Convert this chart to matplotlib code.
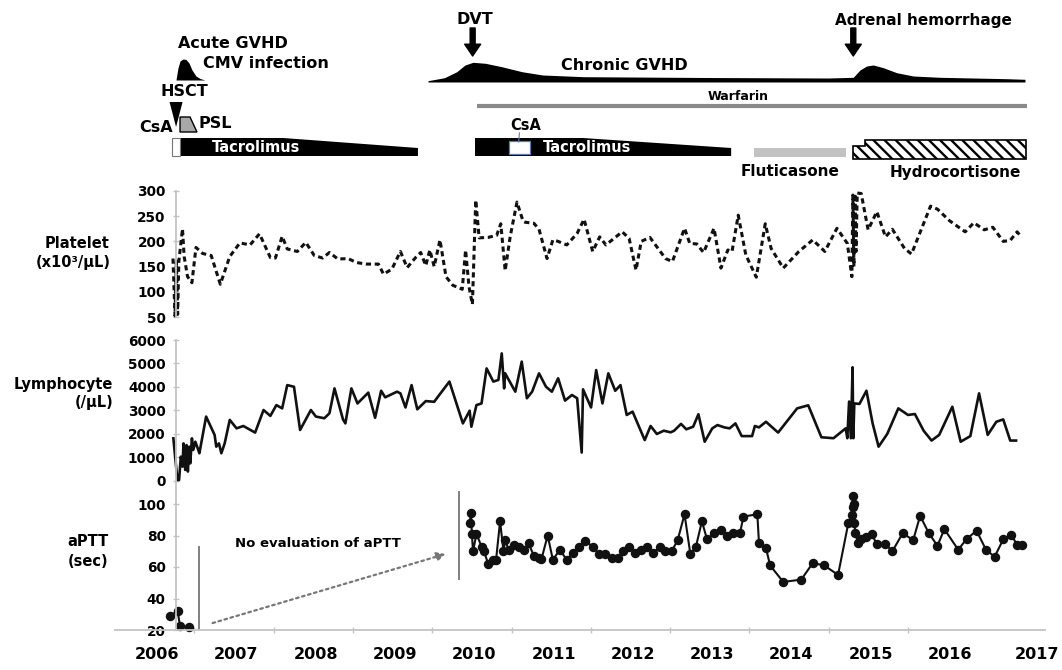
import numpy as np
import matplotlib
matplotlib.use('Agg')
import matplotlib.pyplot as plt
from matplotlib.patches import Rectangle

plt.rcParams['font.family'] = ['DejaVu Sans']
plt.rcParams['font.weight'] = 'bold'
plt.rcParams['hatch.linewidth'] = 1.7

# ------------------------------------------------------------------ data
years = list(range(2006, 2018))

platelet_t = [2006.731, 2006.757, 2006.774, 2006.790, 2006.805, 2006.851, 2006.872, 2006.915,
              2006.970, 2007.021, 2007.106, 2007.213, 2007.328, 2007.447, 2007.575, 2007.703,
              2007.822, 2007.959, 2008.023, 2008.108, 2008.172, 2008.299, 2008.406, 2008.513,
              2008.619, 2008.704, 2008.811, 2008.939, 2009.045, 2009.173, 2009.322, 2009.386,
              2009.492, 2009.599, 2009.684, 2009.791, 2009.855, 2009.919, 2009.970, 2010.025,
              2010.098, 2010.174, 2010.259, 2010.379, 2010.421, 2010.464, 2010.507, 2010.549,
              2010.592, 2010.707, 2010.813, 2010.865, 2010.920, 2010.984, 2011.069, 2011.146,
              2011.173, 2011.282, 2011.347, 2011.448, 2011.522, 2011.588, 2011.697, 2011.828,
              2011.915, 2012.024, 2012.112, 2012.190, 2012.396, 2012.483, 2012.570, 2012.636,
              2012.745, 2012.942, 2013.029, 2013.182, 2013.248, 2013.335, 2013.422, 2013.554,
              2013.641, 2013.728, 2013.781, 2013.859, 2013.955, 2014.087, 2014.200, 2014.274,
              2014.427, 2014.624, 2014.799, 2014.951, 2015.104, 2015.235, 2015.292, 2015.305,
              2015.318, 2015.331, 2015.345, 2015.360, 2015.410, 2015.497, 2015.607, 2015.716,
              2015.803, 2015.956, 2016.044, 2016.284, 2016.371, 2016.524, 2016.721, 2016.830,
              2016.961, 2017.070, 2017.201, 2017.289, 2017.376, 2017.433]
platelet_v = [166, 52, 165, 55, 160, 225, 170, 130,
              118, 188, 176, 172, 115, 170, 197, 193,
              215, 168, 167, 210, 185, 180, 198, 172,
              167, 178, 165, 166, 158, 155, 155, 135,
              145, 180, 148, 168, 178, 152, 183, 150,
              203, 130, 113, 105, 183, 110, 75, 282,
              207, 208, 212, 235, 142, 210, 278, 240,
              238, 236, 224, 166, 203, 200, 193, 216,
              244, 180, 209, 193, 219, 206, 143, 200,
              208, 166, 160, 226, 196, 195, 178, 226,
              147, 183, 180, 252, 173, 129, 235, 186,
              147, 180, 203, 180, 226, 196, 130, 292,
              150, 295, 180, 296, 295, 223, 259, 209,
              224, 186, 175, 270, 264, 241, 219, 237,
              223, 228, 200, 202, 219, 208]

lymph_t = [2006.736, 2006.787, 2006.808, 2006.830, 2006.851, 2006.864, 2006.885, 2006.902,
           2006.919, 2006.936, 2006.949, 2006.970, 2006.987, 2007.013, 2007.043, 2007.064,
           2007.149, 2007.256, 2007.277, 2007.311, 2007.341, 2007.383, 2007.447, 2007.533,
           2007.618, 2007.767, 2007.873, 2007.959, 2008.035, 2008.108, 2008.172, 2008.257,
           2008.334, 2008.470, 2008.534, 2008.640, 2008.704, 2008.768, 2008.875, 2008.905,
           2008.981, 2009.058, 2009.194, 2009.280, 2009.356, 2009.407, 2009.556, 2009.599,
           2009.663, 2009.740, 2009.812, 2009.919, 2010.025, 2010.089, 2010.217, 2010.387,
           2010.472, 2010.494, 2010.558, 2010.622, 2010.686, 2010.771, 2010.835, 2010.877,
           2010.907, 2010.920, 2011.048, 2011.129, 2011.194, 2011.260, 2011.347, 2011.435,
           2011.509, 2011.588, 2011.675, 2011.762, 2011.828, 2011.885, 2011.902, 2012.003,
           2012.068, 2012.147, 2012.221, 2012.308, 2012.374, 2012.453, 2012.527, 2012.680,
           2012.754, 2012.833, 2012.920, 2013.007, 2013.051, 2013.138, 2013.204, 2013.291,
           2013.357, 2013.436, 2013.532, 2013.597, 2013.685, 2013.750, 2013.824, 2013.903,
           2014.034, 2014.069, 2014.121, 2014.209, 2014.362, 2014.602, 2014.742, 2014.908,
           2015.061, 2015.214, 2015.235, 2015.257, 2015.279, 2015.301, 2015.310, 2015.323,
           2015.388, 2015.476, 2015.554, 2015.629, 2015.738, 2015.878, 2016.000, 2016.087,
           2016.197, 2016.297, 2016.393, 2016.559, 2016.664, 2016.786, 2016.896, 2017.005,
           2017.114, 2017.201, 2017.289, 2017.363]
lymph_v = [1815, 40, 40, 1035, 610, 1600, 470, 1530,
           400, 1460, 750, 1815, 1320, 1670, 1390, 1180,
           2740, 1960, 1460, 1600, 1180, 1600, 2600, 2240,
           2340, 2060, 3020, 2770, 3230, 3090, 4080, 4010,
           2170, 3020, 2740, 2670, 2880, 3940, 2620, 2450,
           3940, 3300, 3760, 2690, 3840, 3560, 3800, 3730,
           3130, 4080, 3050, 3400, 3370, 3660, 4230, 2450,
           2990, 2310, 3230, 3300, 4790, 4230, 4300, 5430,
           3940, 4580, 3800, 5080, 3520, 3800, 4580, 4010,
           3800, 4370, 3420, 3660, 3520, 1210, 3900, 3130,
           4720, 3300, 4580, 3840, 4080, 2810, 2950, 1740,
           2340, 2000, 2140, 2070, 2140, 2430, 2200, 2310,
           2840, 1670, 2240, 2380, 2280, 2240, 2450, 1910,
           1910, 2340, 2280, 2520, 2060, 3090, 3220, 1860,
           1820, 2240, 1820, 3380, 1820, 4840, 1820, 3300,
           3280, 3840, 2450, 1460, 2000, 3090, 2810, 2850,
           2140, 1720, 1960, 3160, 1670, 1910, 3730, 1960,
           2520, 2620, 1720, 1720]

aptt_early_t = [2006.69, 2006.79, 2006.82, 2006.93]
aptt_early_v = [29, 32, 22.5, 22]

aptt_t = [2010.472, 2010.490, 2010.500, 2010.515, 2010.558, 2010.622, 2010.651, 2010.707,
          2010.771, 2010.805, 2010.856, 2010.899, 2010.920, 2010.963, 2011.026, 2011.090,
          2011.154, 2011.216, 2011.282, 2011.347, 2011.378, 2011.456, 2011.522, 2011.609,
          2011.697, 2011.771, 2011.850, 2011.928, 2012.024, 2012.103, 2012.177, 2012.265,
          2012.339, 2012.409, 2012.483, 2012.562, 2012.636, 2012.715, 2012.789, 2012.876,
          2012.933, 2013.020, 2013.095, 2013.182, 2013.256, 2013.326, 2013.401, 2013.466,
          2013.554, 2013.641, 2013.720, 2013.794, 2013.881, 2013.925, 2014.100, 2014.121,
          2014.209, 2014.261, 2014.427, 2014.654, 2014.799, 2014.943, 2015.118, 2015.248,
          2015.292, 2015.301, 2015.310, 2015.316, 2015.323, 2015.336, 2015.367, 2015.410,
          2015.476, 2015.541, 2015.607, 2015.716, 2015.803, 2015.934, 2016.065, 2016.153,
          2016.262, 2016.371, 2016.459, 2016.633, 2016.743, 2016.865, 2016.983, 2017.092,
          2017.201, 2017.302, 2017.376, 2017.441]
aptt_v = [88, 94, 81, 70, 81, 73, 70, 62,
          64.5, 64.5, 89, 70, 77, 71, 74, 73,
          71, 75, 67, 65.5, 65, 80, 64.5, 71,
          64.5, 69, 73, 76.5, 73, 68, 68, 65.5,
          65.5, 70, 72.5, 69, 71, 73, 69, 73,
          70, 70, 77, 93.5, 68, 73, 89, 77.5,
          81.5, 83.5, 80, 81.5, 81.5, 92, 93.5, 75,
          72, 61, 50.5, 52, 62.5, 61, 55, 88,
          93, 98, 105, 100, 88, 81.5, 75.5, 78,
          79, 81, 74.5, 74.5, 70, 81.5, 77, 92.5,
          81.5, 73.5, 84, 71, 78, 83, 71, 66.5,
          77.5, 80.5, 74, 74]

# clinical course (decimal years; levels are relative symbol heights)
hsct_date = 2006.77
dvt_date = 2010.51
adrenal_date = 2015.31
acute_gvhd_t = [2006.769, 2006.794, 2006.820, 2006.858, 2006.895, 2006.933, 2006.971,
                2007.021, 2007.072, 2007.135]
acute_gvhd_level = [0, 12, 19, 21, 20.5, 17, 10, 4, 1.5, 0]
chronic_gvhd_t = [2009.947, 2010.155, 2010.310, 2010.414, 2010.515, 2010.671, 2010.876,
                  2011.132, 2011.392, 2011.908, 2013.453, 2015.000, 2015.310, 2015.394,
                  2015.479, 2015.562, 2015.689, 2015.857, 2016.067, 2016.403, 2017.244,
                  2017.475]
chronic_gvhd_level = [1.3, 4.3, 10.3, 17, 19.7, 18.7, 15.3, 10.3, 7, 5.3, 4.5, 4, 4.7, 12,
                      16, 17, 14.3, 9.3, 6, 4.7, 3.3, 2.7]
psl_t = [2006.820, 2006.820, 2006.946, 2007.034]
psl_level = [0, 15, 15, 0]
csa_periods = [(2006.72, 2006.82), (2010.97, 2011.23)]
tac1_t = [2006.82, 2008.12, 2009.82]
tac1_level = [18, 18, 8]
tac2_t = [2010.54, 2011.90, 2013.77]
tac2_level = [18, 18, 8]
warfarin_period = (2010.565, 2017.50)
fluticasone_period = (2014.06, 2015.22)
hydro_t = [2015.31, 2015.46, 2017.49]
hydro_level = [13, 19, 19]
no_eval_period = (2007.06, 2010.34)

# ------------------------------------------------------------------ layout
W, H = 1062, 670
X0, X1 = 115, 1045
PX_PER_YEAR = 79.3
xlim = (2006, 2006 + (X1 - X0) / PX_PER_YEAR)


def rect(top, bottom):
    return [X0 / W, 1 - bottom / H, (X1 - X0) / W, (bottom - top) / H]


fig = plt.figure(figsize=(W / 100, H / 100), dpi=100)
fig.patch.set_facecolor('white')
AX_GRAY = '#c4c4c4'
LINE = '#111111'

# --------------------------------------------------- clinical course track
at = fig.add_axes(rect(0, 180))
at.set_xlim(xlim)
at.set_ylim(180, 0)
at.axis('off')

at.fill_between(acute_gvhd_t, 80, 80 - np.array(acute_gvhd_level), color='black', lw=0)
at.fill_between(chronic_gvhd_t, 82, 82 - np.array(chronic_gvhd_level), color='black', lw=0)
at.fill([hsct_date - 0.082, hsct_date + 0.082, hsct_date], [102, 102, 127], color='black', lw=0)
at.fill(psl_t, 132 - np.array(psl_level), facecolor='#a8a8a8', edgecolor='black', lw=1.0)

for tt, lv in ((tac1_t, tac1_level), (tac2_t, tac2_level)):
    xs = list(tt) + list(tt[::-1])
    ys = [156 - v for v in lv] + [156] * len(tt)
    at.fill(xs, ys, color='black', lw=0)

c0, c1 = csa_periods[0]
at.add_patch(Rectangle((c0, 138), c1 - c0, 18, facecolor='white', edgecolor='#777777', lw=0.8))
c0, c1 = csa_periods[1]
at.add_patch(Rectangle((c0, 141), c1 - c0, 13, facecolor='white', edgecolor='#5b7bb0', lw=0.9))
at.plot([(c0 + c1) / 2, (c0 + c1) / 2 - 0.01], [133, 142], color='#5b7bb0', lw=0.8)

at.plot(warfarin_period, [106, 106], color='#8a8a8a', lw=3.0, solid_capstyle='butt')
at.add_patch(Rectangle((fluticasone_period[0], 148), fluticasone_period[1] - fluticasone_period[0], 9,
                       facecolor='#c2c2c2', edgecolor='none'))
hx = [hydro_t[0], hydro_t[0], hydro_t[1], hydro_t[1], hydro_t[2], hydro_t[2]]
hy = [159, 159 - hydro_level[0], 159 - hydro_level[0], 159 - hydro_level[1], 159 - hydro_level[2], 159]
at.fill(hx, hy, facecolor='white', edgecolor='black', hatch='\\\\\\', lw=1.2)

for d in (dvt_date, adrenal_date):
    at.annotate('', xy=(d, 56), xytext=(d, 28),
                arrowprops=dict(arrowstyle='simple,head_length=0.85,head_width=1.15,tail_width=0.36',
                                color='black', mutation_scale=10, shrinkA=0, shrinkB=0))

tkw = dict(fontweight='bold', color='black', va='center')
at.text(2006.794, 43, 'Acute GVHD', fontsize=11.5, ha='left', **tkw)
at.text(2007.110, 64, 'CMV infection', fontsize=11.5, ha='left', **tkw)
at.text(2006.870, 91, 'HSCT', fontsize=11.5, ha='center', **tkw)
at.text(2006.731, 128, 'CsA', fontsize=11.5, ha='right', **tkw)
at.text(2007.059, 123, 'PSL', fontsize=11.5, ha='left', **tkw)
at.text(2007.223, 148, 'Tacrolimus', fontsize=10.5, ha='left', fontweight='bold', color='white', va='center')
at.text(2010.533, 20, 'DVT', fontsize=11.5, ha='center', **tkw)
at.text(2016.20, 20, 'Adrenal hemorrhage', fontsize=11, ha='center', **tkw)
at.text(2012.419, 66, 'Chronic GVHD', fontsize=11.5, ha='center', **tkw)
at.text(2013.856, 96, 'Warfarin', fontsize=9, ha='center', **tkw)
at.text(2011.183, 126, 'CsA', fontsize=10.5, ha='center', **tkw)
at.text(2011.397, 148, 'Tacrolimus', fontsize=10.5, ha='left', fontweight='bold', color='white', va='center')
at.text(2014.512, 172, 'Fluticasone', fontsize=11, ha='center', **tkw)
at.text(2016.593, 172, 'Hydrocortisone', fontsize=11, ha='center', **tkw)


# --------------------------------------------------- lab panels
def style(ax, yticks, show_x=False):
    ax.set_xlim(xlim)
    ax.patch.set_alpha(0)
    for s in ('top', 'right'):
        ax.spines[s].set_visible(False)
    ax.spines['left'].set_position(('data', 2006.77))
    ax.spines['left'].set_color(AX_GRAY)
    ax.spines['left'].set_linewidth(1.3)
    ax.set_yticks(yticks)
    ax.set_yticklabels([str(v) for v in yticks], fontsize=9.8, fontweight='bold')
    ax.tick_params(axis='y', direction='inout', length=5, width=1, color=AX_GRAY, pad=5)
    if not show_x:
        ax.spines['bottom'].set_visible(False)
        ax.set_xticks([])


axp = fig.add_axes(rect(191, 317))
axp.set_ylim(50, 300)
style(axp, [50, 100, 150, 200, 250, 300])
axp.plot(platelet_t, platelet_v, color=LINE, lw=2.2, linestyle=(0, (1.7, 1.2)), clip_on=False)

axl = fig.add_axes(rect(340, 489.2))
axl.set_ylim(-350, 6000)
style(axl, [0, 1000, 2000, 3000, 4000, 5000, 6000])
axl.plot(lymph_t, lymph_v, color=LINE, lw=1.9, clip_on=False)

axa = fig.add_axes(rect(490, 630))
axa.set_ylim(20, 20 + 140 / 31.5 * 20)
style(axa, [20, 40, 60, 80, 100], show_x=True)
axa.spines['bottom'].set_color(AX_GRAY)
axa.spines['bottom'].set_linewidth(1.3)
axa.set_xticks(years[1:-1])
axa.set_xticklabels([])
axa.tick_params(axis='x', which='major', direction='inout', length=5, width=1, color=AX_GRAY)
label_pos = [y + 0.53 for y in years[:-1]] + [years[-1] + 0.63]
axa.set_xticks(label_pos, minor=True)
axa.set_xticklabels([str(y) for y in years], minor=True, fontsize=11.5, fontweight='bold')
axa.tick_params(axis='x', which='minor', length=0, pad=12)

axa.plot(aptt_early_t, aptt_early_v, color=LINE, lw=1.5, marker='o', ms=5.8, clip_on=False)
axa.plot(aptt_t, aptt_v, color=LINE, lw=1.5, marker='o', ms=5.8, clip_on=False)

axa.plot([no_eval_period[0]] * 2, [20, 72.7], color='#808080', lw=1.4)
axa.plot([no_eval_period[1]] * 2, [52.4, 107.6], color='#808080', lw=1.4)
axa.annotate('', xy=(no_eval_period[1] - 0.17, 68.3), xytext=(no_eval_period[0] + 0.17, 24.4),
             arrowprops=dict(arrowstyle='-|>', linestyle=(0, (1.2, 1.6)), color='#777777', lw=1.6,
                             mutation_scale=13, shrinkA=0, shrinkB=0))
axa.text(2008.56, 75.2, 'No evaluation of aPTT', fontsize=9.5, fontweight='bold', ha='center', va='center')

# --------------------------------------------------- panel labels
def ftext(px, py, s, ha, size=10.5):
    fig.text(px / W, 1 - py / H, s, ha=ha, va='center', fontsize=size, fontweight='bold')


ftext(110, 243, 'Platelet', 'right')
ftext(111, 263, '(x10³/µL)', 'right')
ftext(113, 385, 'Lymphocyte', 'right')
ftext(113, 402, '(/µL)', 'right')
ftext(88, 541, 'aPTT', 'center')
ftext(88, 562, '(sec)', 'center')

fig.savefig('out.png', dpi=100, facecolor='white')
